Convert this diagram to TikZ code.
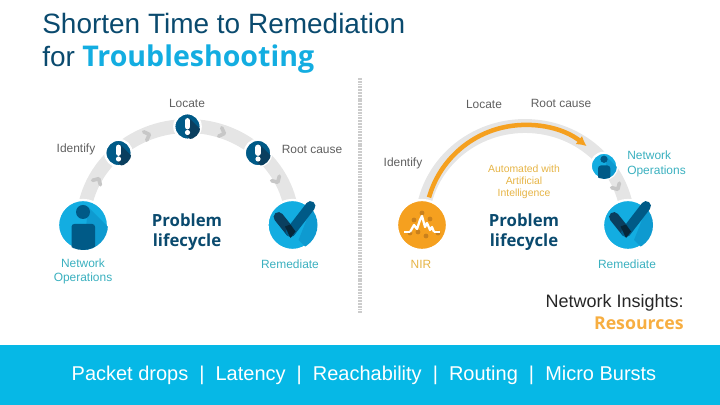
\documentclass[tikz,border=0pt]{standalone}
\usepackage{fontspec}
\setmainfont{Liberation Sans}
\newfontfamily\headfont{Open Sans}
\usepackage{xcolor}
\usetikzlibrary{calc, positioning, arrows.meta}

\definecolor{navy}{HTML}{0A4A6E}
\definecolor{deepblue}{HTML}{005A87}
\definecolor{darkblue}{HTML}{0A3F5F}
\definecolor{skyblue}{HTML}{13ADE1}
\definecolor{shadeblue}{HTML}{0E9AD0}
\definecolor{barblue}{HTML}{06B8E6}
\definecolor{teallabel}{HTML}{3AB0BF}
\definecolor{greylabel}{HTML}{5F5F5F}
\definecolor{nirorange}{HTML}{F5A01F}
\definecolor{darkorange}{HTML}{C9801C}
\definecolor{goldlabel}{HTML}{E6B445}

\tikzset{
    bandline/.style={line width=9.9pt, color=black!10},
    chevron/.style={line width=2.6pt, color=black!22, line cap=round, line join=round},
    bigdisc/.style={circle, minimum size=1.25cm, inner sep=0pt, draw=white, line width=1.6pt},
    smalldisc/.style={circle, minimum size=0.66cm, inner sep=0pt, draw=white, line width=1.6pt},
    greytext/.style={font=\fontsize{8.5}{10.5}\selectfont, text=greylabel, align=center, inner sep=0pt},
    tealtext/.style={font=\fontsize{8.5}{10.5}\selectfont, text=teallabel, align=center, inner sep=0pt},
    lifetext/.style={font=\headfont\bfseries\fontsize{11.9}{14.2}\selectfont, text=navy, align=center, inner sep=0pt},
}

% icons, drawn in the unit of the picture round a node
\newcommand{\personicon}[2]{
    \begin{scope}[shift={(#1.center)}, scale=#2]
        \clip (0,0) circle (25);
        \fill[shadeblue] (5,18) -- (35,-12) -- (35,-35) -- (0,-35) -- cycle;
        \fill[deepblue] (0,13) circle (7);
        \fill[deepblue, rounded corners=2pt] (-11.5,-30) rectangle (12,1);
    \end{scope}
}
\newcommand{\checkicon}[1]{
    \begin{scope}[shift={(#1.center)}]
        \begin{scope}
            \clip (0,0) circle (25);
            \fill[shadeblue] (6,-15) -- (22,-31) -- (40,-31) -- (40,20) -- (20,20) -- cycle;
        \end{scope}
        \draw[darkblue, line width=7pt, line cap=round] (-14,8) -- (-2,-7);
        \draw[deepblue, line width=7pt, line cap=round] (-2,-7) -- (18,19);
        \fill[black!40!darkblue] (-7.5,-1.5) -- (-2,-13) -- (3,-6.5) -- (-2,0.5) -- cycle;
    \end{scope}
}
\newcommand{\alerticon}[1]{
    \begin{scope}[shift={(#1.center)}]
        \clip (0,0) circle (13);
        \fill[darkblue] (1,9) -- (20,-10) -- (10,-20) -- (-1,-9) -- cycle;
        \draw[white, line width=4.2pt, line cap=round] (0,5.5) -- (0,0);
        \fill[white] (0,-6) circle (2.6);
    \end{scope}
}

\begin{document}
\begin{tikzpicture}[>=latex, x=0.025cm, y=0.025cm]
    \useasboundingbox (0,0) rectangle (720,405);

    % 1. Title
    \node[anchor=base west, inner sep=0pt, text=navy, font=\fontsize{19.9}{22}\selectfont] (titleA) at (42,371) {Shorten Time to Remediation};
    \node[anchor=base west, inner sep=0pt, text=navy, font=\fontsize{19.9}{22}\selectfont] (titleB) at (42,338) {for};
    \node[anchor=base west, inner sep=0pt, text=skyblue, font=\headfont\bfseries\fontsize{20.3}{22}\selectfont] (titleC) at (82,338) {Troubleshooting};

    % 2. Dotted divider
    \coordinate (divtop) at (360,327);
    \coordinate (divbot) at (360,91);
    \draw[black!20, line width=2.8pt, dash pattern=on 1.3pt off 0.7pt] (divtop) -- (divbot);

    % 3. Left lifecycle
    \node[bigdisc] (opsL) at (83,180) {};
    \node[bigdisc] (checkL) at (292.5,180) {};
    \draw[bandline] (opsL.center) arc[start angle=180, end angle=0, x radius=104.75, y radius=99];
    \foreach \px/\py/\ang in {98/225/60, 148/270/20, 223/272/-20, 277/224/-60}
        \draw[chevron, shift={(\px,\py)}, rotate=\ang] (-3,4.5) -- (1.5,0) -- (-3,-4.5);
    \node[bigdisc, fill=skyblue] at (opsL) {};
    \node[bigdisc, fill=skyblue] at (checkL) {};
    \node[smalldisc, fill=deepblue] (identL) at (118.5,252) {};
    \node[smalldisc, fill=deepblue] (locateL) at (187.5,278.5) {};
    \node[smalldisc, fill=deepblue] (rootL) at (258,252) {};
    \personicon{opsL}{1}
    \checkicon{checkL}
    \alerticon{identL}
    \alerticon{locateL}
    \alerticon{rootL}

    \node[greytext] (txtlocL) at (187,302) {Locate};
    \node[greytext] (txtidL) at (76,256) {Identify};
    \node[greytext] (txtrootL) at (312,256) {Root cause};
    \node[lifetext] (lifeL) at (187,173) {Problem\\lifecycle};
    \node[tealtext] (txtopsL) at (83,133.5) {Network\\Operations};
    \node[tealtext] (txtremL) at (290,141) {Remediate};

    % 4. Right lifecycle
    \node[bigdisc] (nir) at (422,180) {};
    \node[bigdisc] (checkR) at (628,180) {};
    \draw[bandline] (nir.center) arc[start angle=180, end angle=0, x radius=103, y radius=99];
    \draw[chevron, shift={(617,217)}, rotate=-60] (-3,4.5) -- (1.5,0) -- (-3,-4.5);
    \coordinate (aistart) at (429,207.6);
    \draw[-{Latex[length=7pt, width=7.5pt]}, nirorange, line width=3.2pt] (aistart) arc[start angle=164, end angle=52, radius=100];
    \node[bigdisc, fill=nirorange] at (nir) {};
    \node[bigdisc, fill=skyblue] at (checkR) {};
    \node[smalldisc, fill=skyblue] (opsR) at (604,239) {};
    \personicon{opsR}{0.52}
    \checkicon{checkR}

    % NIR wave
    \begin{scope}[shift={(nir.center)}]
        \foreach \dx/\dy in {0/12, -12/-8, -4/-7, 4/-11, 16/-8, 8/6, -8/5}
            \fill[darkorange] (\dx,\dy) circle (2.4);
        \draw[white, line width=1.1pt] (-18,-7) -- (-12,-7);
        \draw[white, line width=1.1pt] (12,-7) -- (18,-7);
        \draw[white, line width=1.6pt, line join=round] (-12,-7) -- (-8,0) -- (-5,-4) -- (-2,5) -- (0,9) -- (3,-2) -- (5,2) -- (8,-5) -- (10,-2) -- (12,-7);
    \end{scope}

    \node[greytext] (txtlocR) at (484,301) {Locate};
    \node[greytext] (txtrootR) at (561,302) {Root cause};
    \node[greytext] (txtidR) at (403,242) {Identify};
    \node[font=\fontsize{7.4}{8.5}\selectfont, text=goldlabel, align=center, inner sep=0pt] (txtai) at (524,223) {Automated with\\Artificial\\Intelligence};
    \node[lifetext] (lifeR) at (524,173) {Problem\\lifecycle};
    \node[tealtext, align=left, anchor=west] (txtopsR) at (627,241) {Network\\Operations};
    \node[font=\fontsize{8.5}{10.5}\selectfont, text=goldlabel, inner sep=0pt] (txtnir) at (421,141) {NIR};
    \node[tealtext] (txtremR) at (627,141) {Remediate};

    % 5. Resources
    \node[anchor=base east, inner sep=0pt, font=\fontsize{12.8}{14}\selectfont, text=black!85] (insights) at (684,97) {Network Insights:};
    \node[anchor=base east, inner sep=0pt, font=\headfont\bfseries\fontsize{12.6}{14}\selectfont, text=nirorange!85!white] (resources) at (684,75) {Resources};

    % 6. Bottom bar
    \fill[barblue] (0,0) rectangle (720,60);
    \node[inner sep=0pt, text=white, font=\fontsize{14.2}{16}\selectfont] (topics) at (364,30) {Packet drops~~|~~Latency~~|~~Reachability~~|~~Routing~~|~~Micro Bursts};
\end{tikzpicture}
\end{document}
